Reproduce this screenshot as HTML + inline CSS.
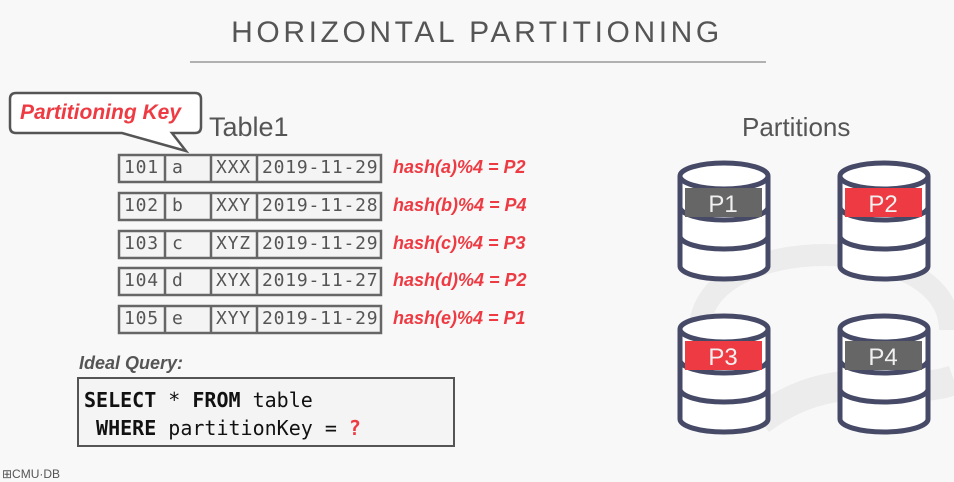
<!DOCTYPE html>
<html><head><meta charset="utf-8"><style>
body{margin:0;width:954px;height:482px;background:#f8f8f8;overflow:hidden;position:relative;font-family:"Liberation Sans",sans-serif}
.t{position:absolute}
.mono{font-family:"DejaVu Sans Mono","Liberation Mono",monospace}
.r{position:absolute;font-family:"DejaVu Sans Mono","Liberation Mono",monospace;font-size:18px;letter-spacing:0.8px;color:#555}
.h{position:absolute;left:393px;font-size:18px;font-weight:bold;font-style:italic;color:#ee3b43}
</style></head><body>
<svg class="t" style="left:0;top:0" width="954" height="482">
<path d="M700 330 C700 230 950 230 950 330" fill="none" stroke="#ececec" stroke-width="22"/>
<path d="M760 420 C840 360 900 400 954 380" fill="none" stroke="#ececec" stroke-width="30"/>
<line x1="190" y1="62" x2="766" y2="62" stroke="#999" stroke-width="1.5"/>
<g stroke="#666" stroke-width="2.5" fill="#f4f4f4">
<rect x="119" y="155" width="262" height="27"/><rect x="119" y="193" width="262" height="27"/><rect x="119" y="231" width="262" height="27"/><rect x="119" y="268" width="262" height="27"/><rect x="119" y="306" width="262" height="27"/>
</g>
<g stroke="#666" stroke-width="2.5">
<path d="M165 155V182M211 155V182M257 155V182M165 193V220M211 193V220M257 193V220M165 231V258M211 231V258M257 231V258M165 268V295M211 268V295M257 268V295M165 306V333M211 306V333M257 306V333"/>
</g>
<path d="M16 93 H195 Q201 93 201 99 V127 Q201 133 195 133 H172 L186 151 L122 133 H16 Q10 133 10 127 V99 Q10 93 16 93Z" fill="#fff" stroke="#555" stroke-width="2.5"/>
<rect x="78" y="378" width="376" height="68" fill="#f4f4f4" stroke="#555" stroke-width="2"/>
<defs><g id="db" fill="#fff" stroke="#474a67" stroke-width="5">
<path d="M0 14 V104 A44 13 0 0 0 88 104 V14"/>
<path d="M0 45 A44 13 0 0 0 88 45" fill="none"/>
<path d="M0 74 A44 13 0 0 0 88 74" fill="none"/>
<ellipse cx="44" cy="14" rx="44" ry="13"/>
</g></defs>
<use href="#db" x="680" y="162"/><use href="#db" x="840" y="162"/>
<use href="#db" x="680" y="315"/><use href="#db" x="840" y="315"/>
<rect x="685" y="188" width="77" height="29" fill="#666"/>
<rect x="845" y="188" width="77" height="29" fill="#ee3b43"/>
<rect x="685" y="341" width="77" height="29" fill="#ee3b43"/>
<rect x="845" y="341" width="77" height="29" fill="#666"/>
<g font-family="Liberation Sans,sans-serif" font-size="24" fill="#f0f0f0" text-anchor="middle">
<text x="723" y="212">P1</text><text x="883" y="212">P2</text><text x="723" y="365">P3</text><text x="883" y="365">P4</text>
</g>
</svg>
<div class="t" style="left:0;width:954px;top:16px;text-align:center;font-size:30px;letter-spacing:3.6px;color:#555">HORIZONTAL PARTITIONING</div>
<div class="t" style="left:209px;top:112px;font-size:27px;color:#555">Table1</div>
<div class="t" style="left:20px;top:101px;font-size:21px;font-weight:bold;font-style:italic;color:#ee3b43">Partitioning Key</div>
<div class="t" style="left:742px;top:112px;font-size:26px;color:#555">Partitions</div>
<div class="r" style="left:124px;top:157px">101</div><div class="r" style="left:172px;top:157px">a</div><div class="r" style="left:216px;top:157px">XXX</div><div class="r" style="left:262px;top:157px">2019-11-29</div>
<div class="r" style="left:124px;top:195px">102</div><div class="r" style="left:172px;top:195px">b</div><div class="r" style="left:216px;top:195px">XXY</div><div class="r" style="left:262px;top:195px">2019-11-28</div>
<div class="r" style="left:124px;top:233px">103</div><div class="r" style="left:172px;top:233px">c</div><div class="r" style="left:216px;top:233px">XYZ</div><div class="r" style="left:262px;top:233px">2019-11-29</div>
<div class="r" style="left:124px;top:270px">104</div><div class="r" style="left:172px;top:270px">d</div><div class="r" style="left:216px;top:270px">XYX</div><div class="r" style="left:262px;top:270px">2019-11-27</div>
<div class="r" style="left:124px;top:308px">105</div><div class="r" style="left:172px;top:308px">e</div><div class="r" style="left:216px;top:308px">XYY</div><div class="r" style="left:262px;top:308px">2019-11-29</div>
<div class="h" style="top:157px">hash(a)%4 = P2</div>
<div class="h" style="top:195px">hash(b)%4 = P4</div>
<div class="h" style="top:233px">hash(c)%4 = P3</div>
<div class="h" style="top:270px">hash(d)%4 = P2</div>
<div class="h" style="top:308px">hash(e)%4 = P1</div>
<div class="t" style="left:79px;top:353px;font-size:18px;font-weight:bold;font-style:italic;color:#555">Ideal Query:</div>
<div class="t mono" style="left:84px;top:386px;font-size:20px;line-height:28px;color:#111;white-space:pre"><b>SELECT</b> * <b>FROM</b> table
 <b>WHERE</b> partitionKey = <span style="color:#ee3b43;font-weight:bold">?</span></div>
<div class="t" style="left:2px;top:467px;font-size:12px;color:#555">⊞CMU·DB</div>
</body></html>
